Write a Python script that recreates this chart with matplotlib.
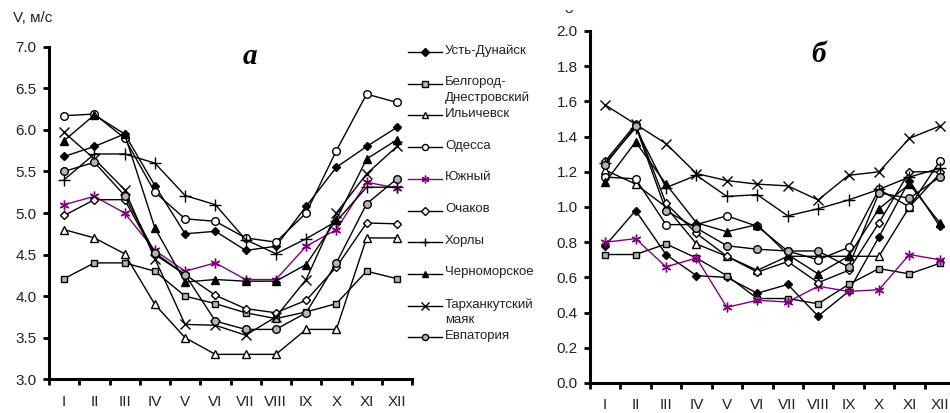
import matplotlib
matplotlib.use('Agg')
import matplotlib.pyplot as plt
import numpy as np
from matplotlib.lines import Line2D
from matplotlib.transforms import Bbox, TransformedBbox

plt.rcParams['font.family'] = ['Liberation Sans', 'DejaVu Sans']

months = ['I', 'II', 'III', 'IV', 'V', 'VI', 'VII', 'VIII', 'IX', 'X', 'XI', 'XII']
stations = ['Усть-Дунайск', 'Белгород-\nДнестровский', 'Ильичевск', 'Одесса', 'Южный',
            'Очаков', 'Хорлы', 'Черноморское', 'Тарханкутский\nмаяк', 'Евпатория']

# a) mean wind speed, m/s
v_ust = [5.68, 5.80, 5.95, 5.33, 4.75, 4.78, 4.55, 4.60, 5.08, 5.55, 5.80, 6.03]
v_belg = [4.21, 4.40, 4.40, 4.30, 4.00, 3.91, 3.80, 3.73, 3.81, 3.91, 4.30, 4.21]
v_ilich = [4.80, 4.70, 4.51, 3.90, 3.50, 3.30, 3.30, 3.30, 3.60, 3.60, 4.70, 4.70]
v_odes = [6.17, 6.19, 5.90, 5.25, 4.93, 4.90, 4.70, 4.65, 5.00, 5.75, 6.43, 6.33]
v_yuzh = [5.10, 5.20, 5.00, 4.55, 4.30, 4.40, 4.20, 4.20, 4.60, 4.80, 5.37, 5.30]
v_ochak = [4.97, 5.16, 5.16, 4.50, 4.26, 4.01, 3.85, 3.80, 3.95, 4.35, 4.88, 4.87]
v_khorl = [5.40, 5.71, 5.71, 5.60, 5.21, 5.10, 4.68, 4.51, 4.69, 4.90, 5.31, 5.31]
v_chern = [5.87, 6.18, 5.95, 4.82, 4.17, 4.20, 4.18, 4.18, 4.38, 4.92, 5.65, 5.88]
v_tarkh = [5.97, 5.65, 5.28, 4.45, 3.66, 3.65, 3.53, 3.75, 4.20, 5.00, 5.47, 5.80]
v_evp = [5.50, 5.61, 5.21, 4.52, 4.26, 3.70, 3.60, 3.60, 3.80, 4.40, 5.11, 5.41]

# б) standard deviation
s_ust = [0.78, 0.98, 0.73, 0.61, 0.60, 0.51, 0.56, 0.38, 0.52, 0.83, 1.15, 0.89]
s_belg = [0.73, 0.73, 0.79, 0.71, 0.61, 0.48, 0.48, 0.45, 0.56, 0.65, 0.62, 0.68]
s_ilich = [1.21, 1.13, 1.00, 0.79, 0.72, 0.64, 0.72, 0.72, 0.72, 0.72, 1.00, 1.19]
s_odes = [1.17, 1.16, 0.90, 0.90, 0.95, 0.89, 0.75, 0.70, 0.77, 1.10, 1.00, 1.26]
s_yuzh = [0.80, 0.82, 0.66, 0.71, 0.43, 0.47, 0.46, 0.55, 0.52, 0.53, 0.73, 0.70]
s_ochak = [1.26, 1.47, 1.02, 0.85, 0.72, 0.63, 0.69, 0.57, 0.64, 0.91, 1.20, 1.20]
s_khorl = [1.25, 1.45, 1.11, 1.18, 1.06, 1.07, 0.95, 0.99, 1.04, 1.10, 1.17, 1.22]
s_chern = [1.14, 1.37, 1.13, 0.91, 0.86, 0.90, 0.73, 0.62, 0.72, 0.99, 1.13, 0.91]
s_tarkh = [1.58, 1.47, 1.36, 1.19, 1.15, 1.13, 1.12, 1.04, 1.18, 1.20, 1.39, 1.46]
s_evp = [1.24, 1.46, 0.98, 0.88, 0.78, 0.76, 0.75, 0.75, 0.66, 1.08, 1.05, 1.17]

series_a = [v_ust, v_belg, v_ilich, v_odes, v_yuzh, v_ochak, v_khorl, v_chern, v_tarkh, v_evp]
series_b = [s_ust, s_belg, s_ilich, s_odes, s_yuzh, s_ochak, s_khorl, s_chern, s_tarkh, s_evp]

gray = '#b4b4b4'
purple = '#800080'
styles = [
    dict(marker='D', mfc='black', mec='black', ms=4.5, color='black'),
    dict(marker='s', mfc=gray, mec='black', ms=5, color='black'),
    dict(marker='^', mfc='white', mec='black', ms=6, color='black'),
    dict(marker='o', mfc='white', mec='black', ms=5.5, color='black'),
    dict(marker=(6, 2, 0), mfc=purple, mec=purple, ms=7, color=purple),
    dict(marker='D', mfc='white', mec='black', ms=4.5, color='black'),
    dict(marker='+', mfc='black', mec='black', ms=8, color='black'),
    dict(marker='^', mfc='black', mec='black', ms=6, color='black'),
    dict(marker='x', mfc='black', mec='black', ms=7, color='black'),
    dict(marker='o', mfc=gray, mec='black', ms=5.5, color='black'),
]

W, H = 950, 413
fig = plt.figure(figsize=(9.5, 4.13), dpi=100)

def fx(x):
    return x / W

def fy(y):
    return 1 - y / H

ax1 = fig.add_axes([fx(49), fy(379.3), fx(412) - fx(49), fy(46.7) - fy(379.3)])
ax2 = fig.add_axes([fx(590), fy(383), fx(955) - fx(590), fy(31) - fy(383)])

x = np.arange(1, 13)

def style_axis(ax, ylim, ystep):
    for s in ['top', 'right']:
        ax.spines[s].set_visible(False)
    for s in ['left', 'bottom']:
        ax.spines[s].set_linewidth(2.2)
    ax.set_xlim(0.5, 12.5)
    ax.set_ylim(*ylim)
    ax.set_yticks(np.arange(ylim[0], ylim[1] + ystep / 2, ystep))
    ax.yaxis.set_major_formatter(matplotlib.ticker.FormatStrFormatter('%.1f'))
    ax.set_xticks(x)
    ax.set_xticklabels(months)
    ax.set_xticks(np.arange(0.5, 13, 1), minor=True)
    ax.tick_params(axis='x', which='major', length=0, pad=11, labelsize=11, colors='#222222')
    ax.tick_params(axis='x', which='minor', length=4, width=2, direction='out')
    ax.tick_params(axis='y', length=4, width=2, pad=5, labelsize=11, colors='#222222')
    ax.tick_params(axis='both', color='black')
    ax.patch.set_alpha(0)

for vals, st in zip(series_a, styles):
    ax1.plot(x, vals, lw=1.0, mew=1.0, clip_on=False, **st)
for vals, st in zip(series_b, styles):
    ax2.plot(x, vals, lw=1.0, mew=1.0, clip_on=False, **st)

style_axis(ax1, (3.0, 7.0), 0.5)
style_axis(ax2, (0.0, 2.0), 0.2)

fig.text(fx(33), fy(18), 'V, м/с', ha='center', va='center', fontsize=11, color='#222222')
fig.text(fx(250), fy(57), 'а', ha='center', va='center', fontsize=21,
         family='Liberation Serif', weight='bold', style='italic')
fig.text(fx(819), fy(55), 'б', ha='center', va='center', fontsize=21,
         family='Liberation Serif', weight='bold', style='italic')

# clipped y label of the right panel (only its lower part shows)
sig = fig.text(fx(569), fy(9), 'σ', ha='center', va='center', fontsize=11, color='#222222')
sig.set_clip_box(TransformedBbox(Bbox([[fx(560), fy(16)], [fx(578), fy(9.5)]]), fig.transFigure))
sig.set_clip_on(True)

# legend
for i, (name, st) in enumerate(zip(stations, styles)):
    yy = 52 + i * 31.7
    fig.add_artist(Line2D([fx(408), fx(442)], [fy(yy), fy(yy)], transform=fig.transFigure,
                          color=st['color'], lw=1.0))
    ms = st['ms'] * 0.8
    fig.add_artist(Line2D([fx(425)], [fy(yy)], transform=fig.transFigure, marker=st['marker'],
                          mfc=st['mfc'], mec=st['mec'], ms=ms, mew=1.0, lw=0))
    fig.text(fx(445), fy(yy - 7.5), name, ha='left', va='top', fontsize=9.5,
             linespacing=1.4, color='#222222')

fig.savefig('out.png', dpi=100)
